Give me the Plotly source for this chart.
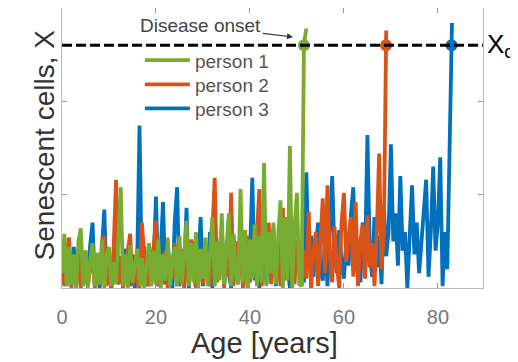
import numpy as np
import plotly.graph_objects as go

STEP = 0.5
XC = 1.3

person1 = [0.08, 0.29, 0.01, 0.22, 0.02, 0.18, 0.00, 0.25, 0.32, 0.01,
           0.20, 0.00, 0.15, 0.24, 0.01, 0.19, 0.02, 0.26, 0.00, 0.17,
           0.22, 0.01, 0.14, 0.02, 0.27, 0.54, 0.01, 0.18, 0.00, 0.23,
           0.03, 0.12, 0.21, 0.01, 0.16, 0.00, 0.12, 0.24, 0.01, 0.20,
           0.02, 0.26, 0.00, 0.18, 0.04, 0.27, 0.01, 0.15, 0.22, 0.01,
           0.28, 0.02, 0.17, 0.36, 0.01, 0.24, 0.03, 0.30, 0.00, 0.21,
           0.05, 0.27, 0.01, 0.19, 0.38, 0.01, 0.25, 0.04, 0.40, 0.02,
           0.22, 0.40, 0.01, 0.29, 0.06, 0.02, 0.53, 0.03, 0.31, 0.00,
           0.26, 0.05, 0.34, 0.01, 0.28, 0.03, 0.67, 0.01, 0.30, 0.08,
           0.35, 0.02, 0.27, 0.47, 0.00, 0.38, 0.04, 0.76, 0.00, 0.33,
           0.51, 0.02, 0.01, 1.31, 1.39]

person2 = [0.12, 0.01, 0.18, 0.27, 0.00, 0.15, 0.02, 0.21, 0.00, 0.13,
           0.20, 0.01, 0.11, 0.16, 0.00, 0.14, 0.02, 0.19, 0.28, 0.01,
           0.15, 0.00, 0.22, 0.58, 0.02, 0.17, 0.00, 0.12, 0.20, 0.29,
           0.01, 0.14, 0.03, 0.00, 0.35, 0.18, 0.04, 0.01, 0.16, 0.22,
           0.36, 0.01, 0.13, 0.02, 0.20, 0.00, 0.17, 0.05, 0.24, 0.01,
           0.14, 0.21, 0.00, 0.18, 0.03, 0.26, 0.08, 0.00, 0.19, 0.12,
           0.02, 0.23, 0.09, 0.01, 0.27, 0.59, 0.03, 0.16, 0.30, 0.00,
           0.20, 0.06, 0.51, 0.01, 0.25, 0.04, 0.32, 0.00, 0.18, 0.28,
           0.03, 0.22, 0.10, 0.30, 0.53, 0.01, 0.24, 0.12, 0.35, 0.02,
           0.27, 0.08, 0.19, 0.01, 0.43, 0.04, 0.31, 0.10, 0.22, 0.02,
           0.26, 0.09, 0.01, 0.20, 0.05, 0.41, 0.00, 0.18, 0.30, 0.01,
           0.25, 0.48, 0.08, 0.55, 0.17, 0.03, 0.33, 0.12, 0.00, 0.35,
           0.51, 0.14, 0.28, 0.38, 0.06, 0.46, 0.01, 0.25, 0.34, 0.05,
           0.39, 0.11, 0.24, 0.01, 0.30, 0.72, 0.10, 0.30, 1.38]

person3 = [0.08, 0.20, 0.01, 0.15, 0.03, 0.22, 0.00, 0.18, 0.12, 0.01,
           0.16, 0.02, 0.23, 0.35, 0.01, 0.14, 0.00, 0.19, 0.42, 0.02,
           0.20, 0.00, 0.13, 0.24, 0.02, 0.17, 0.00, 0.21, 0.09, 0.01,
           0.18, 0.00, 0.14, 0.87, 0.03, 0.22, 0.01, 0.16, 0.02, 0.13,
           0.49, 0.01, 0.19, 0.46, 0.02, 0.24, 0.08, 0.00, 0.36, 0.54,
           0.01, 0.20, 0.09, 0.43, 0.00, 0.18, 0.25, 0.02, 0.15, 0.38,
           0.01, 0.21, 0.10, 0.30, 0.00, 0.26, 0.05, 0.18, 0.33, 0.01,
           0.22, 0.09, 0.00, 0.28, 0.14, 0.02, 0.31, 0.07, 0.24, 0.01,
           0.17, 0.59, 0.04, 0.29, 0.00, 0.20, 0.35, 0.02, 0.26, 0.10,
           0.32, 0.01, 0.22, 0.38, 0.03, 0.27, 0.12, 0.00, 0.30, 0.14,
           0.09, 0.25, 0.12, 0.03, 0.62, 0.15, 0.28, 0.06, 0.20, 0.35,
           0.10, 0.04, 0.27, 0.01, 0.30, 0.60, 0.18, 0.08, 0.31, 0.14,
           0.05, 0.26, 0.12, 0.40, 0.54, 0.09, 0.22, 0.03, 0.35, 0.15,
           0.82, 0.20, 0.06, 0.38, 0.11, 0.28, 0.02, 0.45, 0.17, 0.30,
           0.77, 0.25, 0.40, 0.12, 0.60, 0.20, 0.30, 0.00, 0.28, 0.55,
           0.18, 0.35, 0.08, 0.24, 0.40, 0.58, 0.06, 0.30, 0.65, 0.20,
           0.35, 0.70, 0.01, 0.30, 0.10, 0.75, 1.42]

names = ["person 1", "person 2", "person 3"]
colors = ["#77AC30", "#D95319", "#0072BD"]
series = [person1, person2, person3]
x_ticks = [0, 20, 40, 60, 80]
legend_ids = ["legend", "legend2", "legend3"]

fig = go.Figure()

# draw blue first, green last (green on top)
for i in [2, 1, 0]:
    v = np.array(series[i])
    t = np.arange(len(v)) * STEP
    fig.add_trace(go.Scatter(x=t, y=v, mode="lines", name=names[i],
                             line=dict(color=colors[i], width=3.8),
                             legend=legend_ids[i]))

# onset markers at first threshold crossing
for i in [2, 1, 0]:
    v = np.array(series[i])
    t = np.arange(len(v)) * STEP
    k = int(np.argmax(v >= XC))
    tc = t[k - 1] + (XC - v[k - 1]) / (v[k] - v[k - 1]) * STEP
    fig.add_trace(go.Scatter(x=[tc], y=[XC], mode="markers", showlegend=False,
                             marker=dict(color=colors[i], size=12)))

fig.add_shape(type="line", xref="paper", x0=0, x1=1, yref="y", y0=XC, y1=XC,
              line=dict(color="black", width=3, dash="10px,4px"))

fig.add_annotation(x=49.16, y=1.345, ax=-92, ay=-11, text="Disease onset",
                   showarrow=True, arrowhead=2, arrowsize=1, arrowwidth=1.2,
                   arrowcolor="#333", font=dict(size=19, color="#444"))
fig.add_annotation(xref="paper", x=1, xshift=2, xanchor="left", y=XC, yanchor="middle",
                   text="X<sub>c</sub>", showarrow=False,
                   font=dict(size=26, color="black"))
fig.add_annotation(xref="paper", yref="paper", x=0.482, y=-0.198, yanchor="middle",
                   text="Age [years]", showarrow=False,
                   font=dict(size=29, color="#333"))
fig.add_annotation(xref="paper", yref="paper", x=0, xshift=-35, y=0.511,
                   text="Senescent cells, X", textangle=-90, showarrow=False,
                   font=dict(size=28, color="#333"))

leg_common = dict(x=0.185, xanchor="left", yanchor="middle", itemwidth=45,
                  bgcolor="rgba(0,0,0,0)", font=dict(size=19, color="#555"))
leg_y = [0.813, 0.727, 0.641]

fig.update_layout(
    width=510, height=354,
    margin=dict(l=54, r=35, t=0, b=74),
    paper_bgcolor="white", plot_bgcolor="white",
    font=dict(family="Liberation Sans, Arial, sans-serif"),
    showlegend=True,
    legend=dict(y=leg_y[0], **leg_common),
    legend2=dict(y=leg_y[1], **leg_common),
    legend3=dict(y=leg_y[2], **leg_common),
    xaxis=dict(range=[0, 89.6], tickvals=x_ticks, ticks="inside", ticklen=5,
               tickcolor="#999", showline=True, linecolor="#bbb", mirror="ticks",
               showgrid=False, zeroline=False, ticklabelstandoff=11,
               tickfont=dict(size=20, color="#777")),
    yaxis=dict(range=[0, 1.5], tickvals=[0, 0.5, 1.0, 1.5], ticks="inside",
               ticklen=5, tickcolor="#999", showline=True, linecolor="#bbb",
               mirror="ticks", showgrid=False, zeroline=False,
               showticklabels=False),
)

fig.write_html("out.html")
